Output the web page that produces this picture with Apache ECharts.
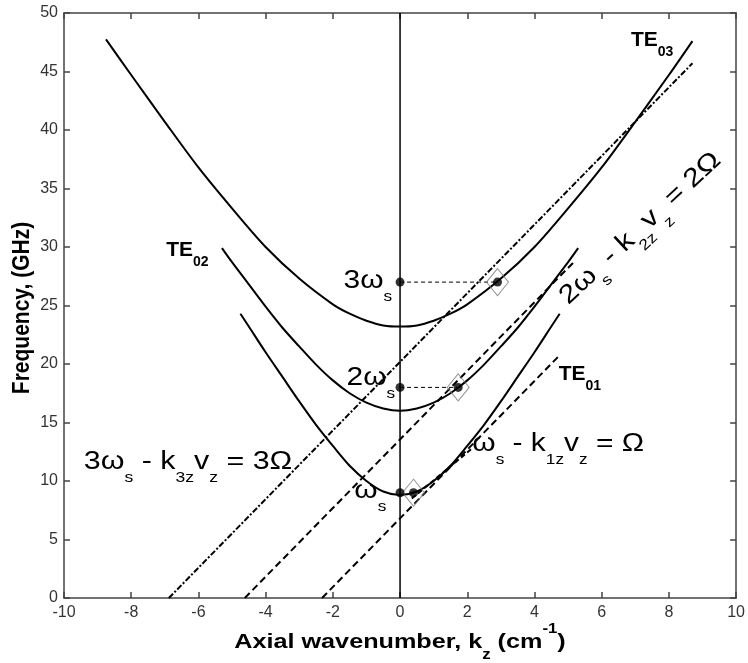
<!DOCTYPE html>
<html><head><meta charset="utf-8">
<script src="https://cdn.jsdelivr.net/npm/echarts@6/dist/echarts.min.js"></script>
<style>html,body{margin:0;padding:0;background:#fff}#c{width:748px;height:663px}</style>
</head><body><div id="c"></div>
<script>
// ---- data ----
const te01K = [-4.75,-4.5,-4,-3.5,-3,-2.5,-2,-1.5,-1,-0.5,0,0.5,1,1.5,2,2.5,3,3.5,4,4.5,4.75];
const te01F = [24.3,23.2,21.0,18.9,16.8,14.8,13.0,11.3,10.0,9.1,8.8,9.1,10.0,11.3,13.0,14.8,16.8,18.9,21.0,23.2,24.3];
const te02K = [-5.3,-5,-4.5,-4,-3.5,-3,-2.5,-2,-1.5,-1,-0.5,0,0.5,1,1.5,2,2.5,3,3.5,4,4.5,5,5.3];
const te02F = [29.9,28.7,26.8,24.9,23.1,21.5,19.95,18.6,17.5,16.7,16.2,16.0,16.2,16.7,17.5,18.6,19.95,21.5,23.1,24.9,26.8,28.7,29.9];
const te03K = [-8.75,-8,-7,-6,-5,-4,-3,-2,-1.5,-1,-0.5,0,0.5,1,1.5,2,3,4,5,6,7,8,8.7];
const te03F = [47.75,44.7,40.7,36.8,33.3,30.0,27.3,25.1,24.3,23.7,23.3,23.2,23.3,23.7,24.3,25.1,27.3,30.0,33.3,36.8,40.7,44.7,47.6];
const beam1K = [-2.32, 4.7],  beam1F = [0, 20.6];
const beam2K = [-4.62, 5.2],  beam2F = [0, 28.8];
const beam3K = [-6.88, 8.7],  beam3F = [0, 45.7];
const hugK = [0.35, 2.15],    hugF = [8.5, 12.8];
const axisLineK = [0, 0],     axisLineF = [0, 50];
const harmK = [0, 0, 0],      harmF = [9, 18, 27];
const resK = [0.4, 1.73, 2.9], resF = [9, 18, 27];
const xMin = -10, xMax = 10, xStep = 2;
const yMin = 0, yMax = 50, yStep = 5;

const FF = '"Liberation Sans", Arial, Helvetica, sans-serif';
const pairs = (k, f) => k.map((v, i) => [v, f[i]]);

const chart = echarts.init(document.getElementById('c'), null, {renderer: 'canvas'});

const axLine = {show: true, onZero: false, lineStyle: {color: '#444', width: 1.5}};
const axTick = {show: true, inside: true, length: 6, lineStyle: {color: '#444', width: 1.5}};

function curve(k, f) {
  return {type: 'line', data: pairs(k, f), smooth: 0.3, showSymbol: false, silent: true,
    lineStyle: {color: '#000', width: 2}, z: 3};
}
function dashed(k, f, type, width) {
  return {type: 'line', data: pairs(k, f), showSymbol: false, silent: true,
    lineStyle: {color: '#000', width: width || 2, type: type}, z: 2};
}

const option = {
  animation: false,
  textStyle: {fontFamily: FF},
  grid: {left: 64, top: 13, right: 6, bottom: 65},
  xAxis: [
    {type: 'value', min: xMin, max: xMax, interval: xStep, position: 'bottom',
     axisLine: axLine, axisTick: axTick, splitLine: {show: false},
     axisLabel: {fontSize: 16, color: '#333', margin: 7, fontFamily: FF}},
    {type: 'value', min: xMin, max: xMax, interval: xStep, position: 'top',
     axisLine: axLine, axisTick: axTick, splitLine: {show: false}, axisLabel: {show: false}}
  ],
  yAxis: [
    {type: 'value', min: yMin, max: yMax, interval: yStep, position: 'left',
     axisLine: axLine, axisTick: axTick, splitLine: {show: false},
     axisLabel: {fontSize: 16, color: '#333', margin: 6, fontFamily: FF}},
    {type: 'value', min: yMin, max: yMax, interval: yStep, position: 'right',
     axisLine: axLine, axisTick: axTick, splitLine: {show: false}, axisLabel: {show: false}}
  ],
  series: [
    dashed(axisLineK, axisLineF, 'solid', 1.5),
    curve(te01K, te01F),
    curve(te02K, te02F),
    curve(te03K, te03F),
    dashed(beam1K, beam1F, [7, 4]),
    dashed(beam2K, beam2F, [7, 4]),
    dashed(beam3K, beam3F, [6, 2, 2, 2]),
    dashed(hugK, hugF, [5, 3]),
    dashed([harmK[1], resK[1]], [harmF[1], resF[1]], [4, 3], 1),
    dashed([harmK[2], resK[2]], [harmF[2], resF[2]], [4, 3], 1),
    {type: 'scatter', data: pairs(resK, resF), symbol: 'diamond', symbolSize: [22, 27], silent: true,
     itemStyle: {color: 'rgba(0,0,0,0)', borderColor: '#777', borderWidth: 1}, z: 4},
    {type: 'scatter', data: pairs(harmK.concat(resK), harmF.concat(resF)), symbol: 'circle', symbolSize: 9,
     silent: true, itemStyle: {color: '#000'}, z: 5}
  ]
};
chart.setOption(option);

// ---- text annotations (anchored in data coordinates) ----
const bigRich = {
  b: {fontSize: 26, fontFamily: FF, lineHeight: 46, fill: '#000'},
  s: {fontSize: 15, fontFamily: FF, lineHeight: 14, verticalAlign: 'bottom', fill: '#000'}
};
const teRich = {
  t: {fontSize: 21, fontWeight: 'bold', fontFamily: FF, lineHeight: 38, fill: '#000'},
  u: {fontSize: 14, fontWeight: 'bold', fontFamily: FF, lineHeight: 12, verticalAlign: 'bottom', fill: '#000'}
};
const notes = [
  {at: [-1.68, 27.1], text: '{b|3ω}{s|s}', rich: bigRich, sx: 1.15},
  {at: [-1.59, 18.8], text: '{b|2ω}{s|s}', rich: bigRich, sx: 1.15},
  {at: [-1.36, 9.15], text: '{b|ω}{s|s}', rich: bigRich, sx: 1.15},
  {at: [-9.41, 11.62], text: '{b|3ω}{s|s}{b| - k}{s|3z}{b|v}{s|z}{b| = 3Ω}', rich: bigRich, sx: 1.17},
  {at: [2.15, 13.16], text: '{b|ω}{s|s}{b| - k}{s|1z}{b|v}{s|z}{b| = Ω}', rich: bigRich, sx: 1.15},
  {at: [7.15, 31.6], text: '{b|2ω}{s|s}{b| - k}{s|2z}{b|v}{s|z}{b| = 2Ω}', rich: bigRich, sx: 1.18,
   align: 'center', rot: 43},
  {at: [6.87, 47.7], text: '{t|TE}{u|03}', rich: teRich, sx: 1},
  {at: [-6.96, 29.74], text: '{t|TE}{u|02}', rich: teRich, sx: 1},
  {at: [4.72, 19.15], text: '{t|TE}{u|01}', rich: teRich, sx: 1}
];
const graphics = notes.map(n => {
  const p = chart.convertToPixel({gridIndex: 0}, n.at);
  return {type: 'text', x: p[0], y: p[1], scaleX: n.sx, rotation: (n.rot || 0) * Math.PI / 180,
    silent: true, z: 10,
    style: {text: n.text, rich: n.rich, align: n.align || 'left', verticalAlign: 'middle'}};
});
// axis titles
graphics.push({
  type: 'text', x: 400, y: 642, scaleX: 1.2, silent: true,
  style: {text: '{m|Axial wavenumber, k}{d|z}{m| (cm}{p|-1}{m|)}', align: 'center', verticalAlign: 'middle',
    rich: {
      m: {fontSize: 21, fontWeight: 'bold', fontFamily: FF, lineHeight: 40, fill: '#000'},
      d: {fontSize: 14, fontWeight: 'bold', fontFamily: FF, lineHeight: 14, verticalAlign: 'bottom', fill: '#000'},
      p: {fontSize: 14, fontWeight: 'bold', fontFamily: FF, lineHeight: 26, verticalAlign: 'top', fill: '#000'}
    }}
});
graphics.push({
  type: 'text', x: 22, y: 308, rotation: Math.PI / 2, scaleY: 1.15, silent: true,
  style: {text: 'Frequency, (GHz)', align: 'center', verticalAlign: 'middle',
    font: 'bold 21px ' + FF, fill: '#000'}
});
chart.setOption({graphic: graphics});
</script>
</body></html>
